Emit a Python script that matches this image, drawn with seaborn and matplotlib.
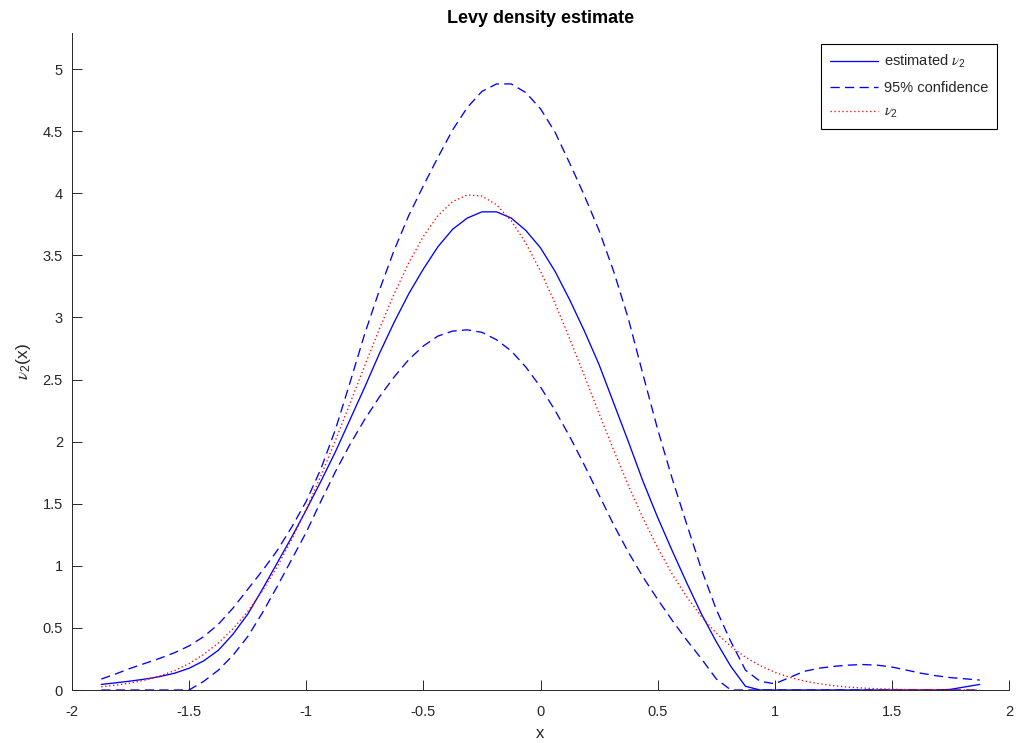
import numpy as np
import pandas as pd
import matplotlib
matplotlib.use("Agg")
import matplotlib.pyplot as plt
import seaborn as sns

# ---- data ----
x_grid = [-1.875, -1.8125, -1.75, -1.6875, -1.625, -1.5625, -1.5, -1.4375,
          -1.375, -1.3125, -1.25, -1.1875, -1.125, -1.0625, -1.0, -0.9375,
          -0.875, -0.8125, -0.75, -0.6875, -0.625, -0.5625, -0.5, -0.4375,
          -0.375, -0.3125, -0.25, -0.1875, -0.125, -0.0625, 0.0, 0.0625,
          0.125, 0.1875, 0.25, 0.3125, 0.375, 0.4375, 0.5, 0.5625,
          0.625, 0.6875, 0.75, 0.8125, 0.875, 0.9375, 1.0, 1.0625,
          1.125, 1.1875, 1.25, 1.3125, 1.375, 1.4375, 1.5, 1.5625,
          1.625, 1.6875, 1.75, 1.8125, 1.875]

estimated = [0.045, 0.058, 0.072, 0.088, 0.108, 0.135, 0.175, 0.235,
             0.32, 0.45, 0.61, 0.81, 1.02, 1.23, 1.45, 1.68,
             1.92, 2.18, 2.44, 2.71, 2.96, 3.19, 3.39, 3.57,
             3.71, 3.80, 3.85, 3.85, 3.80, 3.70, 3.56, 3.37,
             3.14, 2.89, 2.62, 2.31, 2.00, 1.68, 1.39, 1.12,
             0.86, 0.61, 0.39, 0.19, 0.03, 0.0, 0.0, 0.0,
             0.0, 0.0, 0.0, 0.0, 0.0, 0.0, 0.0, 0.0,
             0.0, 0.0, 0.005, 0.025, 0.045]

upper_ci = [0.088, 0.13, 0.175, 0.215, 0.255, 0.30, 0.355, 0.43,
            0.53, 0.66, 0.81, 0.96, 1.12, 1.31, 1.52, 1.78,
            2.10, 2.48, 2.87, 3.22, 3.54, 3.82, 4.06, 4.29,
            4.51, 4.69, 4.82, 4.88, 4.88, 4.81, 4.68, 4.49,
            4.24, 3.98, 3.70, 3.37, 2.99, 2.54, 2.10, 1.70,
            1.33, 0.97, 0.65, 0.39, 0.16, 0.07, 0.05, 0.10,
            0.15, 0.175, 0.19, 0.20, 0.205, 0.20, 0.185, 0.16,
            0.135, 0.115, 0.10, 0.09, 0.08]

lower_ci = [0.0, 0.0, 0.0, 0.0, 0.0, 0.0, 0.0, 0.07,
            0.16, 0.28, 0.43, 0.62, 0.83, 1.05, 1.27, 1.52,
            1.76, 1.98, 2.18, 2.36, 2.52, 2.66, 2.77, 2.85,
            2.89, 2.90, 2.88, 2.82, 2.73, 2.60, 2.44, 2.25,
            2.04, 1.81, 1.57, 1.33, 1.11, 0.91, 0.73, 0.56,
            0.40, 0.25, 0.09, 0.0, 0.0, 0.0, 0.0, 0.0,
            0.0, 0.0, 0.0, 0.0, 0.0, 0.0, 0.0, 0.0,
            0.0, 0.0, 0.0, 0.0, 0.0]

true_nu = [0.026, 0.039, 0.056, 0.080, 0.113, 0.156, 0.213, 0.287,
           0.379, 0.493, 0.632, 0.797, 0.990, 1.210, 1.456, 1.725,
           2.012, 2.311, 2.613, 2.909, 3.188, 3.439, 3.653, 3.820,
           3.933, 3.986, 3.977, 3.907, 3.778, 3.598, 3.372, 3.112,
           2.827, 2.529, 2.227, 1.930, 1.647, 1.385, 1.145, 0.932,
           0.748, 0.590, 0.459, 0.351, 0.264, 0.196, 0.143, 0.103,
           0.073, 0.051, 0.035, 0.023, 0.016, 0.010, 0.007, 0.004,
           0.003, 0.002, 0.001, 0.001, 0.0005]

x_ticks = [-2, -1.5, -1, -0.5, 0, 0.5, 1, 1.5, 2]
x_tick_labels = ["-2", "-1.5", "-1", "-0.5", "0", "0.5", "1", "1.5", "2"]
y_ticks = [0, 0.5, 1, 1.5, 2, 2.5, 3, 3.5, 4, 4.5, 5]
y_tick_labels = ["0", "0.5", "1", "1.5", "2", "2.5", "3", "3.5", "4", "4.5", "5"]

df = pd.DataFrame({"x": x_grid, "est": estimated, "up": upper_ci,
                   "lo": lower_ci, "true": true_nu})

# ---- style ----
sns.set_theme(style="white")
plt.rcParams["font.family"] = ["Liberation Sans", "DejaVu Sans"]
plt.rcParams["mathtext.fontset"] = "custom"
plt.rcParams["mathtext.it"] = "STIXGeneral:italic"
plt.rcParams["mathtext.rm"] = "Liberation Sans"
plt.rcParams["mathtext.default"] = "it"

axis_col = "#262626"

fig = plt.figure(figsize=(10.19, 7.43), dpi=100)
ax = fig.add_axes([72 / 1019, 1 - 690 / 743, (1009 - 72) / 1019, (690 - 33) / 743])

sns.lineplot(data=df, x="x", y="est", ax=ax, color="blue", lw=0.95,
             label=r"estimated $\nu_2$")
sns.lineplot(data=df, x="x", y="up", ax=ax, color="blue", lw=0.95,
             linestyle="--", label="95% confidence")
sns.lineplot(data=df, x="x", y="lo", ax=ax, color="blue", lw=0.95,
             linestyle="--", label="_nolegend_")
sns.lineplot(data=df, x="x", y="true", ax=ax, color="red", lw=0.95,
             linestyle=":", label=r"$\nu_2$")

lines = ax.get_lines()
for ln in lines[1:3]:
    ln.set_dashes((7, 4))
lines[3].set_dashes((1, 2))

ax.set_xlim(-2, 2)
ax.set_ylim(0, 5.29)
ax.set_xticks(x_ticks)
ax.set_xticklabels(x_tick_labels)
ax.set_yticks(y_ticks)
ax.set_yticklabels(y_tick_labels)

for side in ["top", "right"]:
    ax.spines[side].set_visible(False)
for side in ["left", "bottom"]:
    ax.spines[side].set_color(axis_col)
    ax.spines[side].set_linewidth(0.7)

ax.tick_params(axis="both", which="major", bottom=True, left=True,
               direction="in", length=7, width=0.7,
               colors=axis_col, labelsize=10.5)
ax.tick_params(axis="x", pad=11)
ax.tick_params(axis="y", pad=6.5)

ax.set_xlabel("x", fontsize=12, color=axis_col, labelpad=5)
ax.set_ylabel(r"$\nu_2$(x)", fontsize=12.5, color=axis_col, labelpad=7)
ax.set_title("Levy density estimate", fontsize=13, fontweight="bold",
             color="black", pad=7)

leg = ax.legend(loc="upper right",
                bbox_to_anchor=((997 - 72) / (1009 - 72), (690 - 44) / (690 - 33)),
                fontsize=10.5, frameon=True, fancybox=False, framealpha=1,
                edgecolor="black", handlelength=3.3, handletextpad=0.4,
                borderpad=0.62, labelspacing=0.72, borderaxespad=0)
leg.get_frame().set_linewidth(0.8)

fig.savefig("out.png", dpi=100)
